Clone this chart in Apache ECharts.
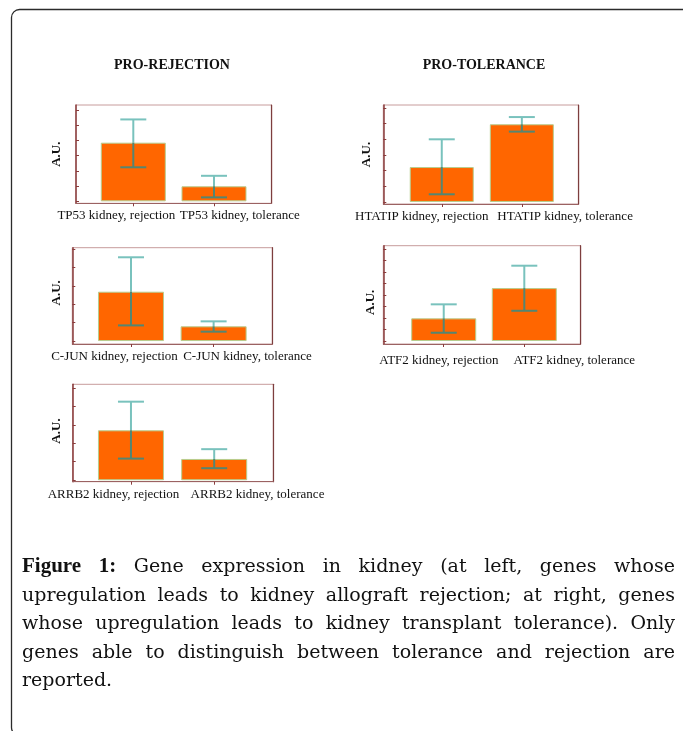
<!DOCTYPE html>
<html>
<head>
<meta charset="utf-8">
<script src="https://cdn.jsdelivr.net/npm/echarts@6/dist/echarts.min.js"></script>
<style>
html,body{margin:0;padding:0;background:#ffffff;}
#chart{width:683px;height:731px;}
</style>
</head>
<body>
<div id="chart"></div>
<script>
// ---------------- DATA ----------------
const groupTitles = ['PRO-REJECTION', 'PRO-TOLERANCE'];
const categories = [
  ['TP53 kidney, rejection', 'TP53 kidney, tolerance'],
  ['HTATIP kidney, rejection', 'HTATIP kidney, tolerance'],
  ['C-JUN kidney, rejection', 'C-JUN kidney, tolerance'],
  ['ATF2 kidney, rejection', 'ATF2 kidney, tolerance'],
  ['ARRB2 kidney, rejection', 'ARRB2 kidney, tolerance']
];
const means = [[3.86, 0.99], [2.23, 4.96], [2.68, 0.80], [1.97, 4.60], [2.70, 1.15]];
const errLow = [[2.24, 0.26], [0.49, 4.49], [0.85, 0.51], [0.72, 2.63], [1.17, 0.65]];
const errHigh = [[5.39, 1.68], [4.00, 5.42], [4.55, 1.07], [3.19, 6.55], [4.25, 1.68]];
const yTickValues = [
  [0, 1, 2, 3, 4, 5, 6],
  [0, 1, 2, 3, 4, 5, 6],
  [0, 1, 2, 3, 4, 5],
  [0, 1, 2, 3, 4, 5, 6, 7, 8],
  [0, 1, 2, 3, 4, 5]
];
const yAxisName = 'A.U.';
const captionLines = [
  'Figure 1: Gene expression in kidney (at left, genes whose',
  'upregulation leads to kidney allograft rejection; at right, genes',
  'whose upregulation leads to kidney transplant tolerance). Only',
  'genes able to distinguish between tolerance and rejection are',
  'reported.'
];

// ---------------- LAYOUT ----------------
const layout = [
  {left: 76,    top: 105,   width: 195.7, height: 98.3, xMin: -0.71, xMax: 1.715, yMin: -0.13, yMax: 6.34, barW: 65, labelPos: [-0.21, 1.32], labelMargin: 6, nameGap: 13, namePad: [0, 0, 0, 0]},
  {left: 383.3, top: 105,   width: 195.4, height: 99,   xMin: -0.73, xMax: 1.71,  yMin: -0.13, yMax: 6.19, barW: 64, labelPos: [-0.25, 1.54], labelMargin: 6, nameGap: 10, namePad: [0, 0, 0, 0]},
  {left: 72.3,  top: 247.7, width: 200,   height: 96.3, xMin: -0.71, xMax: 1.71,  yMin: -0.16, yMax: 5.07, barW: 66, labelPos: [-0.20, 1.41], labelMargin: 6, nameGap: 9,  namePad: [0, 0, 0, 6]},
  {left: 383.3, top: 245.7, width: 197.4, height: 98.3, xMin: -0.75, xMax: 1.70,  yMin: -0.26, yMax: 8.29, barW: 65, labelPos: [-0.06, 1.62], labelMargin: 10, nameGap: 6, namePad: [0, 15, 0, 0]},
  {left: 72.7,  top: 384.3, width: 200.6, height: 97.4, xMin: -0.70, xMax: 1.71,  yMin: -0.08, yMax: 5.19, barW: 66, labelPos: [-0.21, 1.52], labelMargin: 6, nameGap: 9.5, namePad: [0, 0, 0, 4]}
];
const SERIF = '"Liberation Serif", "Times New Roman", serif';
const CAP_FONT = '"DejaVu Serif", serif';
const AXIS_DARK = '#8a3c3c';
const BORDER_LIGHT = '#c79c9c';
const BAR_COLOR = '#ff6600';
const BAR_BORDER = '#b7cd8e';
const ERR_LIGHT = '#79c2bd';
const ERR_DARK = '#538672';

// ---------------- BUILD ----------------
const grid = [], xAxis = [], yAxis = [], series = [];
layout.forEach((L, p) => {
  grid.push({left: L.left, top: L.top, width: L.width, height: L.height, show: true,
    borderColor: BORDER_LIGHT, borderWidth: 1, backgroundColor: 'transparent', containLabel: false});
  const labels = categories[p];
  xAxis.push({
    type: 'value', gridIndex: p, min: L.xMin, max: L.xMax,
    axisLine: {show: true, onZero: false, lineStyle: {color: '#9b6262', width: 1}},
    axisTick: {show: true, inside: false, length: 3, customValues: [0, 1], lineStyle: {color: AXIS_DARK}},
    axisLabel: {
      show: true, customValues: L.labelPos, margin: L.labelMargin,
      fontFamily: SERIF, fontSize: 13, color: '#111',
      formatter: function (v) {
        let best = 0, d = 1e9;
        L.labelPos.forEach((q, i) => { if (Math.abs(q - v) < d) { d = Math.abs(q - v); best = i; } });
        return labels[best];
      }
    },
    splitLine: {show: false}
  });
  yAxis.push({
    type: 'value', gridIndex: p, min: L.yMin, max: L.yMax, position: 'left',
    name: yAxisName, nameLocation: 'middle', nameGap: L.nameGap, nameRotate: 90,
    nameTextStyle: {fontFamily: SERIF, fontSize: 13, fontWeight: 'bold', color: '#111', padding: L.namePad},
    axisLine: {show: true, onZero: false, lineStyle: {color: AXIS_DARK, width: 1.5}},
    axisTick: {show: true, inside: true, length: 3, customValues: yTickValues[p], lineStyle: {color: AXIS_DARK}},
    axisLabel: {show: false},
    splitLine: {show: false}
  });
  yAxis.push({
    type: 'value', gridIndex: p, min: L.yMin, max: L.yMax, position: 'right',
    axisLine: {show: true, onZero: false, lineStyle: {color: '#7d3e3e', width: 1.2}},
    axisTick: {show: false}, axisLabel: {show: false}, splitLine: {show: false}
  });
  series.push({
    type: 'bar', xAxisIndex: p, yAxisIndex: 2 * p, barWidth: L.barW,
    data: means[p].map((m, i) => [i, m]),
    itemStyle: {color: BAR_COLOR, borderColor: BAR_BORDER, borderWidth: 1},
    silent: true, animation: false, z: 2
  });
  series.push({
    type: 'custom', xAxisIndex: p, yAxisIndex: 2 * p, z: 5, silent: true, animation: false,
    data: means[p].map((m, i) => [i, errLow[p][i], errHigh[p][i], m]),
    renderItem: function (params, api) {
      const x = api.value(0), lo = api.value(1), hi = api.value(2), m = api.value(3);
      const pLo = api.coord([x, lo]), pHi = api.coord([x, hi]);
      const cx = pLo[0];
      const half = 13;
      const kids = [];
      const seg = (y1, y2, col) => kids.push({type: 'line', shape: {x1: cx, y1: y1, x2: cx, y2: y2}, style: {stroke: col, lineWidth: 2}});
      if (hi > m) { const a = api.coord([x, Math.max(lo, m)]); seg(pHi[1], a[1], ERR_LIGHT); }
      if (lo < m) { const b = api.coord([x, Math.min(hi, m)]); seg(b[1], pLo[1], ERR_DARK); }
      kids.push({type: 'line', shape: {x1: cx - half, y1: pHi[1], x2: cx + half, y2: pHi[1]}, style: {stroke: hi > m ? ERR_LIGHT : ERR_DARK, lineWidth: 2}});
      kids.push({type: 'line', shape: {x1: cx - half, y1: pLo[1], x2: cx + half, y2: pLo[1]}, style: {stroke: lo > m ? ERR_LIGHT : ERR_DARK, lineWidth: 2}});
      return {type: 'group', children: kids};
    }
  });
});

// ---------------- GRAPHICS (frame, headings, caption) ----------------
const graphic = [];
graphic.push({type: 'rect', silent: true, shape: {x: 11.5, y: 9.5, width: 680, height: 726, r: 8},
  style: {fill: 'none', stroke: '#2b2b2b', lineWidth: 1.3}, z: 0});
graphic.push({type: 'text', silent: true, x: 172, y: 65, style: {text: groupTitles[0], font: 'bold 14px ' + SERIF, fill: '#111', textAlign: 'center', textVerticalAlign: 'middle'}});
graphic.push({type: 'text', silent: true, x: 484, y: 65, style: {text: groupTitles[1], font: 'bold 14px ' + SERIF, fill: '#111', textAlign: 'center', textVerticalAlign: 'middle'}});

const ctx = document.createElement('canvas').getContext('2d');
const CAP_L = 22, CAP_R = 675, CAP_Y0 = 567, CAP_DY = 28.6, CAP_SIZE = 19;
const fontReg = CAP_SIZE + 'px ' + CAP_FONT;
const fontBold = 'bold 21px ' + SERIF;
captionLines.forEach((line, li) => {
  const words = line.split(' ');
  const fonts = words.map((w, wi) => (li === 0 && wi < 2) ? fontBold : fontReg);
  const widths = words.map((w, wi) => { ctx.font = fonts[wi]; return ctx.measureText(w).width; });
  const total = widths.reduce((a, b) => a + b, 0);
  const last = li === captionLines.length - 1;
  ctx.font = fontReg;
  const gap = last ? ctx.measureText(' ').width : (CAP_R - CAP_L - total) / (words.length - 1);
  let x = CAP_L;
  words.forEach((w, wi) => {
    graphic.push({type: 'text', silent: true, x: x, y: CAP_Y0 + li * CAP_DY,
      style: {text: w, font: fonts[wi], fill: '#111', textAlign: 'left', textVerticalAlign: 'middle'}});
    x += widths[wi] + gap;
  });
});

const chart = echarts.init(document.getElementById('chart'), null, {renderer: 'canvas'});
chart.setOption({
  animation: false,
  backgroundColor: '#ffffff',
  grid: grid, xAxis: xAxis, yAxis: yAxis, series: series, graphic: graphic
});
</script>
</body>
</html>
